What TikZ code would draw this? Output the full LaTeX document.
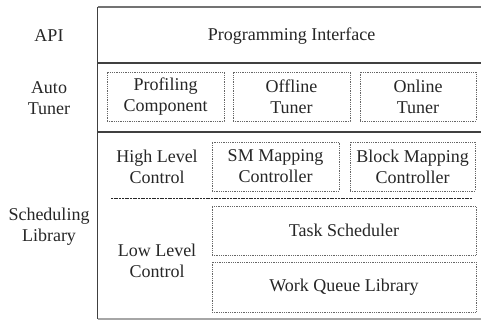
\documentclass[tikz,border=0pt]{standalone}
\usepackage{fontspec}
\setmainfont{Liberation Serif}
\begin{document}
\begin{tikzpicture}[x=1pt,y=-1pt,
  lbl/.style={font=\fontsize{18}{21}\selectfont, align=center, text=black!85, inner sep=0pt},
  dbox/.style={draw=black!60, densely dotted, line width=0.8pt, inner sep=0pt, font=\fontsize{18}{21}\selectfont, align=center, text=black!85},
  frame/.style={draw=black!75, line width=1.4pt},
  sep/.style={draw=black!85, dash pattern=on 2pt off 0.7pt, line width=0.9pt}]
\useasboundingbox (0,0) rectangle (481,320);
% frame
\coordinate (tl) at (97.5,7);
\coordinate (tr) at (481,7);
\coordinate (bl) at (97.5,319);
\coordinate (br) at (481,319);
\coordinate (a1) at (97.5,63);
\coordinate (a2) at (481,63);
\coordinate (b1) at (97.5,132);
\coordinate (b2) at (481,132);
\draw[frame,draw=black!55] (tl) -- (tr);
\draw[frame] (tl) -- (bl);
\draw[frame,draw=black!35] (bl) -- (br);
\draw[frame] (a1) -- (a2);
\draw[frame] (b1) -- (b2);
% left labels
\node[lbl] (api) at (49,36) {API};
\node[lbl] (auto) at (49,98) {Auto\\Tuner};
\node[lbl] (sched) at (49,227) {Scheduling\\Library};
\node[lbl] (prog) at (291.5,36) {Programming Interface};
% auto tuner boxes
\node[dbox, minimum width=117, minimum height=49] (prof) at (165.5,96.5) {Profiling\\Component};
\node[dbox, minimum width=117, minimum height=49] (off) at (291.5,96.5) {Offline\\Tuner};
\node[dbox, minimum width=116, minimum height=49] (on) at (418,96.5) {Online\\Tuner};
% scheduling
\node[lbl] (high) at (157,166.5) {High Level\\Control};
\node[dbox, minimum width=127, minimum height=49] (sm) at (275.5,166.5) {SM Mapping\\Controller};
\node[dbox, minimum width=125, minimum height=49] (blk) at (412.5,166.5) {Block Mapping\\Controller};
\coordinate (s1) at (111,198);
\coordinate (s2) at (472,198);
\draw[sep] (s1) -- (s2);
\node[lbl] (low) at (157,260.5) {Low Level\\Control};
\node[dbox, minimum width=264, minimum height=49] (task) at (344,230.5) {Task Scheduler};
\node[dbox, minimum width=264, minimum height=50] (wq) at (344,287) {Work Queue Library};
\end{tikzpicture}
\end{document}
